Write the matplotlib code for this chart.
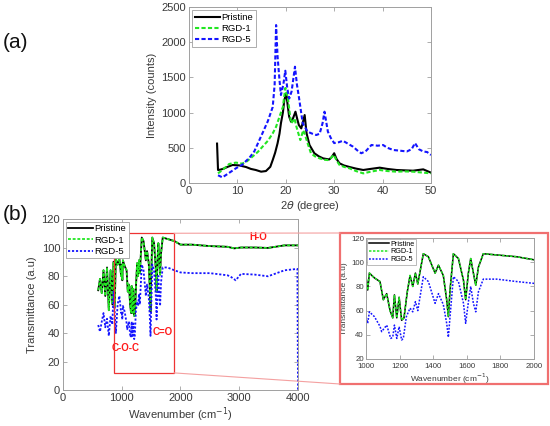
import matplotlib
matplotlib.use("Agg")
import matplotlib.pyplot as plt
from matplotlib.patches import Rectangle, ConnectionPatch

plt.rcParams['font.family'] = ['Liberation Sans', 'DejaVu Sans']
plt.rcParams['mathtext.fontset'] = 'dejavusans'

# ---------------- XRD data (panel a) ----------------
xrd_angle_pristine = [5.8, 6.0, 6.5, 7.3, 8.0, 9.0, 10.4, 11.8, 12.8, 13.8, 14.9, 15.9, 16.8, 17.3,
                      17.8, 18.3, 18.7, 19.0, 19.4, 19.7, 20.1, 20.4, 20.7, 21.1, 21.5, 22.0, 22.4,
                      22.7, 23.2, 23.6, 23.9, 24.3, 24.9, 25.9, 26.8, 27.7, 28.5, 29.0, 29.5, 30.0,
                      30.5, 31.1, 32.0, 33.2, 34.5, 36.0, 37.5, 39.4, 41.0, 42.9, 44.5, 46.3, 48.4, 50.0]
xrd_int_pristine = [560, 185, 190, 208, 230, 256, 250, 227, 200, 185, 161, 170, 230, 326,
                    430, 563, 700, 850, 1000, 1179, 1274, 1100, 942, 870, 920, 1013, 900,
                    823, 776, 880, 966, 705, 540, 423, 380, 350, 340, 335, 370, 423,
                    340, 280, 250, 227, 205, 185, 200, 218, 200, 185, 180, 175, 194, 147]

xrd_angle_rgd1 = [6.0, 7.0, 8.3, 9.7, 11.0, 12.0, 13.1, 14.2, 15.2, 16.3, 17.3, 18.0, 18.7, 19.4,
                  19.9, 20.4, 20.8, 21.1, 21.5, 21.8, 22.2, 22.5, 23.0, 23.6, 24.0, 24.5, 25.2,
                  26.0, 27.0, 28.0, 28.7, 29.4, 29.9, 30.5, 31.1, 32.0, 33.2, 34.5, 36.0, 37.5,
                  39.4, 41.0, 42.9, 44.5, 46.3, 48.0, 50.0]
xrd_int_rgd1 = [137, 190, 270, 290, 275, 310, 374, 440, 516, 600, 705, 800, 942, 1080,
                1350, 1226, 1000, 850, 880, 918, 800, 729, 610, 750, 680, 567, 423,
                380, 350, 330, 326, 360, 400, 320, 256, 230, 208, 170, 137, 160,
                185, 170, 161, 165, 161, 150, 137]

xrd_angle_rgd5 = [6.0, 6.9, 8.0, 9.7, 11.0, 12.5, 13.5, 15.2, 16.3, 17.3, 17.7, 18.0, 18.3, 18.7,
                  19.0, 19.5, 19.9, 20.3, 20.7, 21.2, 21.9, 22.3, 22.7, 23.5, 24.5, 25.5, 26.3,
                  27.0, 27.6, 28.0, 28.4, 28.7, 29.3, 30.0, 31.0, 31.8, 32.8, 33.9, 35.0, 35.6,
                  36.5, 37.7, 39.0, 40.1, 41.0, 42.2, 43.5, 45.0, 46.0, 46.7, 47.5, 48.4, 49.2, 50.0]
xrd_int_rgd5 = [110, 80, 130, 209, 260, 360, 450, 710, 880, 1080, 1400, 2244, 1800, 1462,
                1250, 1400, 1595, 1350, 1200, 1300, 1652, 1400, 1226, 850, 729, 700, 682,
                700, 850, 1013, 850, 729, 640, 567, 580, 600, 560, 516, 450, 423,
                450, 540, 530, 540, 500, 469, 460, 448, 480, 567, 480, 448, 440, 398]

# ---------------- FTIR data (panel b) ----------------
ftir_wn = [600, 630, 660, 690, 720, 750, 780, 810, 840, 860, 880, 900, 930, 960, 990, 1000, 1010,
           1020, 1050, 1083, 1103, 1123, 1143, 1159, 1169, 1183, 1197, 1212, 1226, 1245, 1262,
           1278, 1294, 1308, 1341, 1371, 1411, 1431, 1460, 1480, 1490, 1500, 1520, 1550, 1580,
           1593, 1609, 1623, 1639, 1653, 1669, 1698, 1778, 1897, 2000, 2200, 2500, 2800, 2915,
           3030, 3260, 3490, 3770, 4000]
ftir_pristine = [70, 78, 68, 84, 66, 86, 56, 84, 60, 90, 58, 92, 88, 92, 80, 88, 77,
                 91, 87, 84, 69, 74, 60, 54, 73, 54, 71, 52, 54, 75, 89,
                 80, 91, 82, 107, 104.5, 91, 97.5, 89, 69, 55, 77, 107, 103, 85,
                 69, 91, 103, 91, 81, 96, 107, 106, 104.5, 102, 102, 101, 100.5, 99.4,
                 100, 100, 99.7, 101.5, 101.5]
ftir_rgd1 = [70, 78, 68, 84, 66, 86, 56, 84, 60, 90, 58, 92, 88, 92, 80, 88, 77,
             91, 87, 84, 69, 74, 60, 54, 73, 54, 71, 52, 54, 75, 89,
             80, 91, 82, 107, 104.5, 91, 97.5, 89, 69, 55, 77, 107, 103, 85,
             69, 91, 103, 91, 81, 96, 107, 106, 104.5, 102, 102, 101, 100.5, 99.4,
             100, 100, 99.7, 101.5, 101.5]

ftir_wn_rgd5 = [600, 630, 660, 690, 720, 750, 780, 810, 840, 860, 880, 900, 930, 960, 990, 1000,
                1010, 1020, 1050, 1083, 1093, 1123, 1147, 1159, 1169, 1183, 1197, 1212, 1222,
                1240, 1262, 1278, 1294, 1308, 1341, 1371, 1411, 1431, 1460, 1480, 1490, 1500,
                1520, 1550, 1580, 1593, 1609, 1623, 1639, 1653, 1669, 1698, 1778, 1897, 2000,
                2200, 2500, 2800, 2855, 2940, 3030, 3260, 3490, 3770, 3990, 4000]
ftir_rgd5 = [45.6, 41, 48, 54, 44, 50, 38, 52, 46, 69, 55, 40, 60, 66, 54, 55,
             49.5, 59, 55, 47, 42.6, 48, 37, 38, 48, 37, 46.7, 35.7, 37,
             55, 62, 59, 67.4, 60, 88, 84, 66, 74, 65, 49.5, 38, 55,
             88, 84, 66, 49.5, 67, 80, 66, 59, 75.6, 86, 86, 84, 82.5,
             82, 82, 80.5, 79.5, 77, 81.5, 81, 79.8, 84, 85, 0]

labels = ["Pristine", "RGD-1", "RGD-5"]
zoom_box = [860, 1890, 12, 110]  # wavenumber range and transmittance range of the zoom box

# ---------------- styling ----------------
C_BLACK = '#000000'
C_GREEN = '#22e622'
C_BLUE = '#1414ff'
C_RED = '#ee3333'
SPINE = '#a0a0a0'
TXT = '#3a3a3a'


def style(ax, fs, pad=2):
    for s in ax.spines.values():
        s.set_color(SPINE)
        s.set_linewidth(0.7)
    ax.tick_params(direction='in', top=True, right=True, length=3, width=0.6,
                   color=SPINE, labelcolor=TXT, labelsize=fs, pad=pad)


fig = plt.figure(figsize=(5.5, 4.26), dpi=100)

# ---------------- panel (a) ----------------
axa = fig.add_axes([0.3436, 0.5704, 0.44, 0.4131])
axa.plot(xrd_angle_pristine, xrd_int_pristine, color=C_BLACK, lw=1.5, label=labels[0])
axa.plot(xrd_angle_rgd1, xrd_int_rgd1, color=C_GREEN, lw=1.5, ls=(0, (2.0, 1.1)), label=labels[1])
axa.plot(xrd_angle_rgd5, xrd_int_rgd5, color=C_BLUE, lw=1.5, ls=(0, (2.0, 1.1)), label=labels[2])
axa.set_xlim(0, 50)
axa.set_ylim(0, 2500)
axa.set_xticks([0, 10, 20, 30, 40, 50])
axa.set_yticks([0, 500, 1000, 1500, 2000, 2500])
style(axa, 8)
axa.set_xlabel(r'2$\theta$ (degree)', fontsize=8, color=TXT, labelpad=2)
axa.set_ylabel('Intensity (counts)', fontsize=8, color=TXT, labelpad=3)
lg = axa.legend(loc='upper left', fontsize=6.8, handlelength=2.6, handletextpad=0.2,
                labelspacing=0.2, borderpad=0.3, borderaxespad=0.35, fancybox=False,
                framealpha=1, edgecolor=SPINE)
lg.get_frame().set_linewidth(0.6)

# ---------------- panel (b) main ----------------
axb = fig.add_axes([0.1145, 0.0845, 0.4273, 0.4014])
axb.plot(ftir_wn, ftir_pristine, color=C_BLACK, lw=1.3, label=labels[0])
axb.plot(ftir_wn, ftir_rgd1, color=C_GREEN, lw=1.3, ls=(0, (1.6, 1.0)), label=labels[1])
axb.plot(ftir_wn_rgd5, ftir_rgd5, color=C_BLUE, lw=1.3, ls=(0, (1.2, 1.0)), label=labels[2])
axb.set_xlim(0, 4000)
axb.set_ylim(0, 120)
axb.set_xticks([0, 1000, 2000, 3000, 4000])
axb.set_yticks([0, 20, 40, 60, 80, 100, 120])
style(axb, 8)
axb.set_xlabel('Wavenumber (cm$^{-1}$)', fontsize=8, color=TXT, labelpad=2)
axb.set_ylabel('Transmittance (a.u)', fontsize=8, color=TXT, labelpad=3)
lg = axb.legend(loc='upper left', fontsize=6.8, handlelength=2.6, handletextpad=0.2,
                labelspacing=0.25, borderpad=0.25, borderaxespad=0.3, fancybox=False,
                framealpha=1, edgecolor=SPINE)
lg.get_frame().set_linewidth(0.6)

axb.text(3320, 107.6, 'H-O', color='#ff1a1a', fontsize=7, fontweight='bold', ha='center', va='center')
axb.text(1072, 29.5, 'C-O-C', color='#ff1a1a', fontsize=7, fontweight='bold', ha='center', va='center')
axb.text(1700, 41, 'C=O', color='#ff1a1a', fontsize=7, fontweight='bold', ha='center', va='center')

axb.add_patch(Rectangle((zoom_box[0], zoom_box[2]), zoom_box[1] - zoom_box[0],
                        zoom_box[3] - zoom_box[2], fill=False, edgecolor=C_RED, lw=0.9, zorder=5))

# ---------------- inset frame (figure level) ----------------
fx0, fy0, fw, fh = 340 / 550, 1 - 384 / 426, 208 / 550, 151 / 426
fig.patches.append(Rectangle((fx0, fy0), fw, fh, transform=fig.transFigure, fill=False,
                             edgecolor='#f07070', lw=1.6, zorder=0))
for (xa, ya), (xb, yb) in [((zoom_box[1], zoom_box[3]), (fx0, fy0 + fh)),
                           ((zoom_box[1], zoom_box[2]), (fx0, fy0))]:
    cp = ConnectionPatch(xyA=(xa, ya), coordsA='data', axesA=axb,
                         xyB=(xb, yb), coordsB='figure fraction',
                         color='#f4a0a0', lw=0.8)
    fig.add_artist(cp)

# ---------------- inset ----------------
axi = fig.add_axes([0.6655, 0.1573, 0.3055, 0.284])
axi.plot(ftir_wn, ftir_pristine, color=C_BLACK, lw=1.1, label=labels[0])
axi.plot(ftir_wn, ftir_rgd1, color=C_GREEN, lw=1.1, ls=(0, (1.6, 1.0)), label=labels[1])
axi.plot(ftir_wn_rgd5, ftir_rgd5, color=C_BLUE, lw=1.1, ls=(0, (1.2, 1.0)), label=labels[2])
axi.set_xlim(1000, 2000)
axi.set_ylim(20, 120)
axi.set_xticks([1000, 1200, 1400, 1600, 1800, 2000])
axi.set_yticks([20, 40, 60, 80, 100, 120])
style(axi, 5.6, pad=1.5)
axi.tick_params(axis='x', pad=3)
axi.set_xlabel('Wavenumber (cm$^{-1}$)', fontsize=6, color=TXT, labelpad=1)
axi.set_ylabel('Transmittance (a.u)', fontsize=6, color=TXT, labelpad=2)
lg = axi.legend(loc='upper left', fontsize=5.2, handlelength=2.8, handletextpad=0.2,
                labelspacing=0.1, borderpad=0.2, borderaxespad=0.15, fancybox=False,
                framealpha=1, edgecolor=SPINE)
lg.get_frame().set_linewidth(0.5)

# ---------------- panel labels ----------------
fig.text(3 / 550, 1 - 42 / 426, '(a)', fontsize=15, ha='left', va='center', color='#111111')
fig.text(3 / 550, 1 - 215 / 426, '(b)', fontsize=15, ha='left', va='center', color='#111111')

fig.savefig('out.png', dpi=100)
